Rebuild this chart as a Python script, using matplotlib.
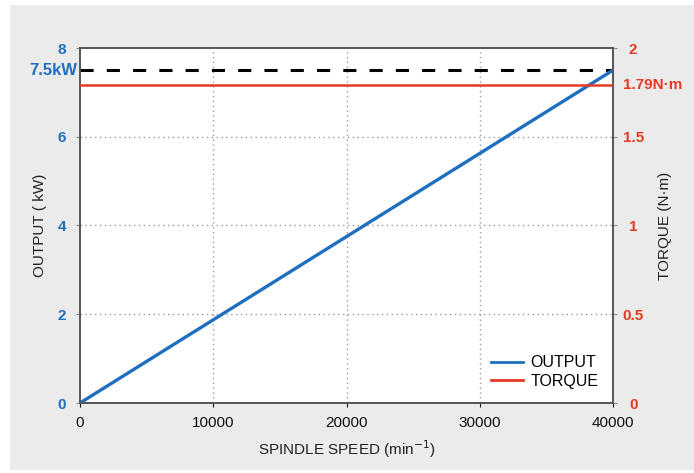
import matplotlib
matplotlib.use("Agg")
import matplotlib.pyplot as plt
from matplotlib.patches import Rectangle

plt.rcParams['font.family'] = ['Liberation Sans', 'DejaVu Sans']

# data
speed = [0, 40000]
output_kw = [0, 7.5]
torque_nm = [1.79, 1.79]
rated_kw = 7.5
x_ticks = [0, 10000, 20000, 30000, 40000]
left_ticks = [0, 2, 4, 6, 8]
right_ticks = [0, 0.5, 1, 1.5, 2]
right_labels = ['0', '0.5', '1', '1.5', '2']

BLUE = '#1f6fc1'
RED = '#e63a24'
BG = '#ebebeb'

fig = plt.figure(figsize=(6.94, 4.73), dpi=100, facecolor='white')
fig.patches.append(Rectangle((10 / 694, 3 / 473), 1, 465 / 473,
                             transform=fig.transFigure, facecolor=BG,
                             edgecolor='none', zorder=-10))

ax = fig.add_axes([80 / 694, 70 / 473, 533 / 694, 355 / 473])
ax.set_facecolor('white')
ax2 = ax.twinx()

ax.plot(speed, [rated_kw, rated_kw], color='black', lw=2.2,
        dashes=(4.3, 4.3), zorder=3)
ax2.plot(speed, torque_nm, color=RED, lw=1.8, label='TORQUE', zorder=3)
ax.plot(speed, output_kw, color=BLUE, lw=2.4, label='OUTPUT', zorder=4)

ax.set_xlim(0, 40000)
ax.set_ylim(0, 8)
ax2.set_ylim(0, 2)

ax.set_xticks(x_ticks)
ax.set_xticklabels([str(v) for v in x_ticks])
ax.set_yticks(left_ticks)
ax.set_yticklabels([str(v) for v in left_ticks])
ax2.set_yticks(right_ticks)
ax2.set_yticklabels(right_labels)

for v in x_ticks[1:-1]:
    ax.axvline(v, color='#9a9a9a', lw=1, ls=(0, (1, 2.5)), zorder=1)
for v in left_ticks[1:-1]:
    ax.axhline(v, color='#9a9a9a', lw=1, ls=(0, (1, 2.5)), zorder=1)

ax.tick_params(axis='x', colors='#111111', labelsize=11, length=3, pad=6)
ax.tick_params(axis='y', colors='#888888', labelcolor=BLUE, labelsize=11,
               length=3, pad=10)
ax2.tick_params(axis='y', colors='#888888', labelcolor=RED, labelsize=11,
                length=3, pad=11.5)
for lab in ax.get_yticklabels() + ax2.get_yticklabels():
    lab.set_fontweight('bold')
    lab.set_horizontalalignment('center')

# rated values labelled beside the axes
ax.annotate(f'{rated_kw:g}kW', xy=(0, rated_kw),
            xycoords=('axes fraction', 'data'), xytext=(-3, 0),
            textcoords='offset pixels', ha='right', va='center',
            color=BLUE, fontsize=12, fontweight='bold')
ax2.annotate(f'{torque_nm[0]:g}N\u00b7m', xy=(1, torque_nm[0]),
             xycoords=('axes fraction', 'data'), xytext=(10, 0),
             textcoords='offset pixels', ha='left', va='center',
             color=RED, fontsize=11, fontweight='bold')

for a in (ax, ax2):
    for s in a.spines.values():
        s.set_color('#555555')
        s.set_linewidth(1.2)

ax.set_xlabel('SPINDLE SPEED (min$^{-1}$)', fontsize=11, color='#222222',
              labelpad=6)
ax.set_ylabel('OUTPUT ( kW)', fontsize=11, color='#222222')
ax.yaxis.set_label_coords(-33 / 533, 0.5)
ax2.set_ylabel('TORQUE (N\u00b7m)', fontsize=11, color='#222222',
               rotation=90)
ax2.yaxis.set_label_coords(1 + 45 / 533, 0.5)

h1, l1 = ax.get_legend_handles_labels()
h2, l2 = ax2.get_legend_handles_labels()
leg = ax2.legend(h1 + h2, l1 + l2, loc='lower right', frameon=False,
                 fontsize=11.5, handlelength=2.0, handletextpad=0.5,
                 labelspacing=0.2, bbox_to_anchor=(1.0, 0.0))
for line in leg.get_lines():
    line.set_linewidth(2.0)

fig.savefig('out.png', dpi=100, facecolor='white')
